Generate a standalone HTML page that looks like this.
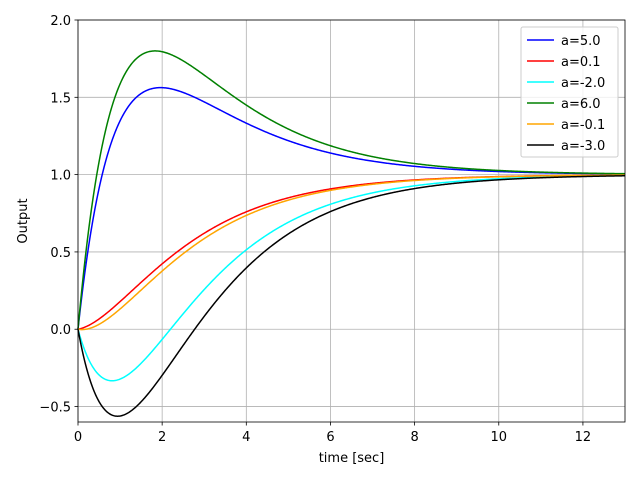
<!DOCTYPE html>
<html><head><meta charset="utf-8"><style>
html,body{margin:0;padding:0;background:#fff;}
svg text{font-family:"DejaVu Sans","Liberation Sans",sans-serif;font-size:13px;fill:#000;}
</style></head><body>
<svg id="s" width="640" height="480" viewBox="0 0 640 480" xmlns="http://www.w3.org/2000/svg">
<rect x="0" y="0" width="640" height="480" fill="#fff"/>
<g id="grid" stroke="#b0b0b0" stroke-width="0.8"></g>
<g id="curves" fill="none" stroke-width="1.5"></g>
<rect x="78" y="20" width="547" height="402" fill="none" stroke="#000" stroke-width="0.8"/>
<g id="ticks"></g>
<text x="351.5" y="462" text-anchor="middle">time [sec]</text>
<text transform="translate(27,221) rotate(-90)" text-anchor="middle">Output</text>
<rect x="521" y="27" width="97" height="130" fill="#fff" fill-opacity="0.8" stroke="#cccccc" stroke-width="1" rx="2"/>
<g id="legend"></g>
</svg>
<script>
var X0=78,X1=625,Y0=20,Y1=422,xmin=0,xmax=13,ymin=-0.6,ymax=2.0;
function px(x){return X0+(x-xmin)/(xmax-xmin)*(X1-X0);}
function py(y){return Y0+(ymax-y)/(ymax-ymin)*(Y1-Y0);}
var NS="http://www.w3.org/2000/svg";
function el(n,a,p,t){var e=document.createElementNS(NS,n);for(var k in a)e.setAttribute(k,a[k]);if(t!==undefined)e.textContent=t;p.appendChild(e);return e;}
var g=document.getElementById('grid'),tk=document.getElementById('ticks');
for(var x=0;x<=12;x+=2){var X=px(x);el('line',{x1:X,x2:X,y1:Y0,y2:Y1},g);
 el('line',{x1:X,x2:X,y1:Y1,y2:Y1+3.5,stroke:'#000','stroke-width':0.8},tk);
 el('text',{x:X,y:Y1+19,'text-anchor':'middle'},tk,String(x));}
var yl=[-0.5,0,0.5,1.0,1.5,2.0],ys=['\u22120.5','0.0','0.5','1.0','1.5','2.0'];
for(var i=0;i<yl.length;i++){var Y=py(yl[i]);el('line',{x1:X0,x2:X1,y1:Y,y2:Y},g);
 el('line',{x1:X0-3.5,x2:X0,y1:Y,y2:Y,stroke:'#000','stroke-width':0.8},tk);
 el('text',{x:X0-7,y:Y+5,'text-anchor':'end'},tk,ys[i]);}
var series=[[5,'#0000ff','a=5.0'],[0.1,'#ff0000','a=0.1'],[-2,'#00ffff','a=-2.0'],[6,'#008000','a=6.0'],[-0.1,'#ffa500','a=-0.1'],[-3,'#000000','a=-3.0']];
var c=document.getElementById('curves'),lg=document.getElementById('legend');
series.forEach(function(s,i){var a=s[0],d='';
 for(var k=0;k<=650;k++){var t=k*13/650;var y=1-2*Math.exp(-t/2)+Math.exp(-t)+a*(Math.exp(-t/2)-Math.exp(-t));
  d+=(k?'L':'M')+px(t).toFixed(2)+' '+py(y).toFixed(2);}
 el('path',{d:d,stroke:s[1]},c);
 var ly=40+i*21;
 el('line',{x1:527,x2:554,y1:ly,y2:ly,stroke:s[1],'stroke-width':1.5},lg);
 el('text',{x:561,y:ly+5},lg,s[2]);});
</script>
</body></html>
